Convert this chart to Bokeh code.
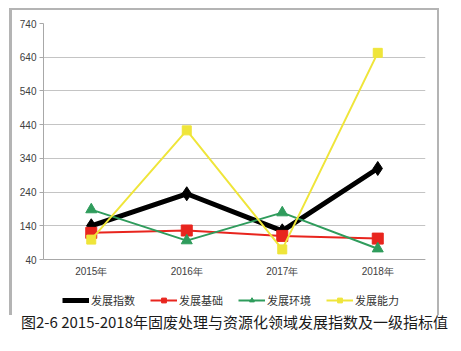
from bokeh.plotting import figure
from bokeh.models import (FactorRange, Range1d, FixedTicker, Legend, LegendItem, Title)
from bokeh.embed import file_html
from bokeh.resources import INLINE

categories = ["2015年", "2016年", "2017年", "2018年"]
y_ticks = [40, 140, 240, 340, 440, 540, 640, 740]
index_values = [140, 235, 125, 310]        # 发展指数
basis_values = [119, 126, 110, 102]        # 发展基础
environment_values = [188, 96, 179, 72]    # 发展环境
capability_values = [99, 423, 70, 653]     # 发展能力
series_names = ["发展指数", "发展基础", "发展环境", "发展能力"]
caption = "图2-6 2015-2018年固废处理与资源化领域发展指数及一级指标值"

W, H = 461, 351
TOP, BOTTOM = 23, 43
AXIS_PX = 236                      # pixel height of the value axis (40..740)
frame_px = H - TOP - BOTTOM
span = y_ticks[-1] - y_ticks[0]
y_start = y_ticks[-1] - span * frame_px / AXIS_PX   # extra room below for legend

frame_css = (":host::after{content:'';position:absolute;left:9px;top:8px;"
             "width:430px;height:307px;border:2px solid #b4b4b4;border-bottom:none;"
             "border-left-width:3px;pointer-events:none;box-sizing:border-box;}")
p = figure(width=W, height=H, output_backend="svg", toolbar_location=None,
           x_range=FactorRange(*categories, range_padding=0),
           y_range=Range1d(y_start, y_ticks[-1]),
           min_border_left=43, min_border_right=36,
           min_border_top=TOP, min_border_bottom=BOTTOM,
           stylesheets=[frame_css])
p.outline_line_color = None
p.background_fill_color = "white"
p.border_fill_color = "white"

p.xgrid.grid_line_color = None
p.ygrid.grid_line_color = "#c4c4c4"
p.ygrid.grid_line_width = 1

p.yaxis.ticker = FixedTicker(ticks=y_ticks)
p.yaxis.bounds = (y_ticks[0], y_ticks[-1])
p.xaxis.fixed_location = y_ticks[0]
for ax in (p.xaxis, p.yaxis):
    ax.axis_line_color = "#a8a8a8"
    ax.major_tick_line_color = "#a8a8a8"
    ax.minor_tick_line_color = None
    ax.major_label_text_font = "Liberation Sans"
    ax.major_label_text_font_size = "10px"
    ax.major_label_text_color = "#404040"
p.yaxis.major_tick_out = 4
p.yaxis.major_tick_in = 0
p.yaxis.major_label_standoff = 3
p.xaxis.major_tick_out = 0
p.xaxis.major_tick_in = 0
p.xaxis.major_label_standoff = 6

colors = ["#000000", "#e8251e", "#2f9c5c", "#efe53a"]
widths = [5, 2, 2, 2]
markers = ["diamond", "square", "triangle", "square"]
sizes = [14, 11, 11, 9]
data = [index_values, basis_values, environment_values, capability_values]

items = []
for name, ys, c, w, m, s in zip(series_names, data, colors, widths, markers, sizes):
    ln = p.line(categories, ys, line_color=c, line_width=w)
    sc = p.scatter(categories, ys, marker=m, size=s, fill_color=c, line_color=c)
    items.append(LegendItem(label=name, renderers=[ln, sc]))

legend = Legend(items=items, orientation="horizontal", location=(19, 0),
                glyph_width=27, glyph_height=12, label_standoff=2, spacing=15,
                padding=0, margin=0, border_line_color=None,
                background_fill_alpha=0,
                label_text_font="Noto Sans CJK SC", label_text_font_size="11px",
                label_text_color="#333333")
p.add_layout(legend, "center")

cap = Title(text=caption, align="center", standoff=0,
            text_font="Noto Sans CJK SC", text_font_size="15px",
            text_font_style="normal", text_color="#1a1a1a")
p.add_layout(cap, "below")

open("out.html", "w").write(file_html(p, INLINE))
